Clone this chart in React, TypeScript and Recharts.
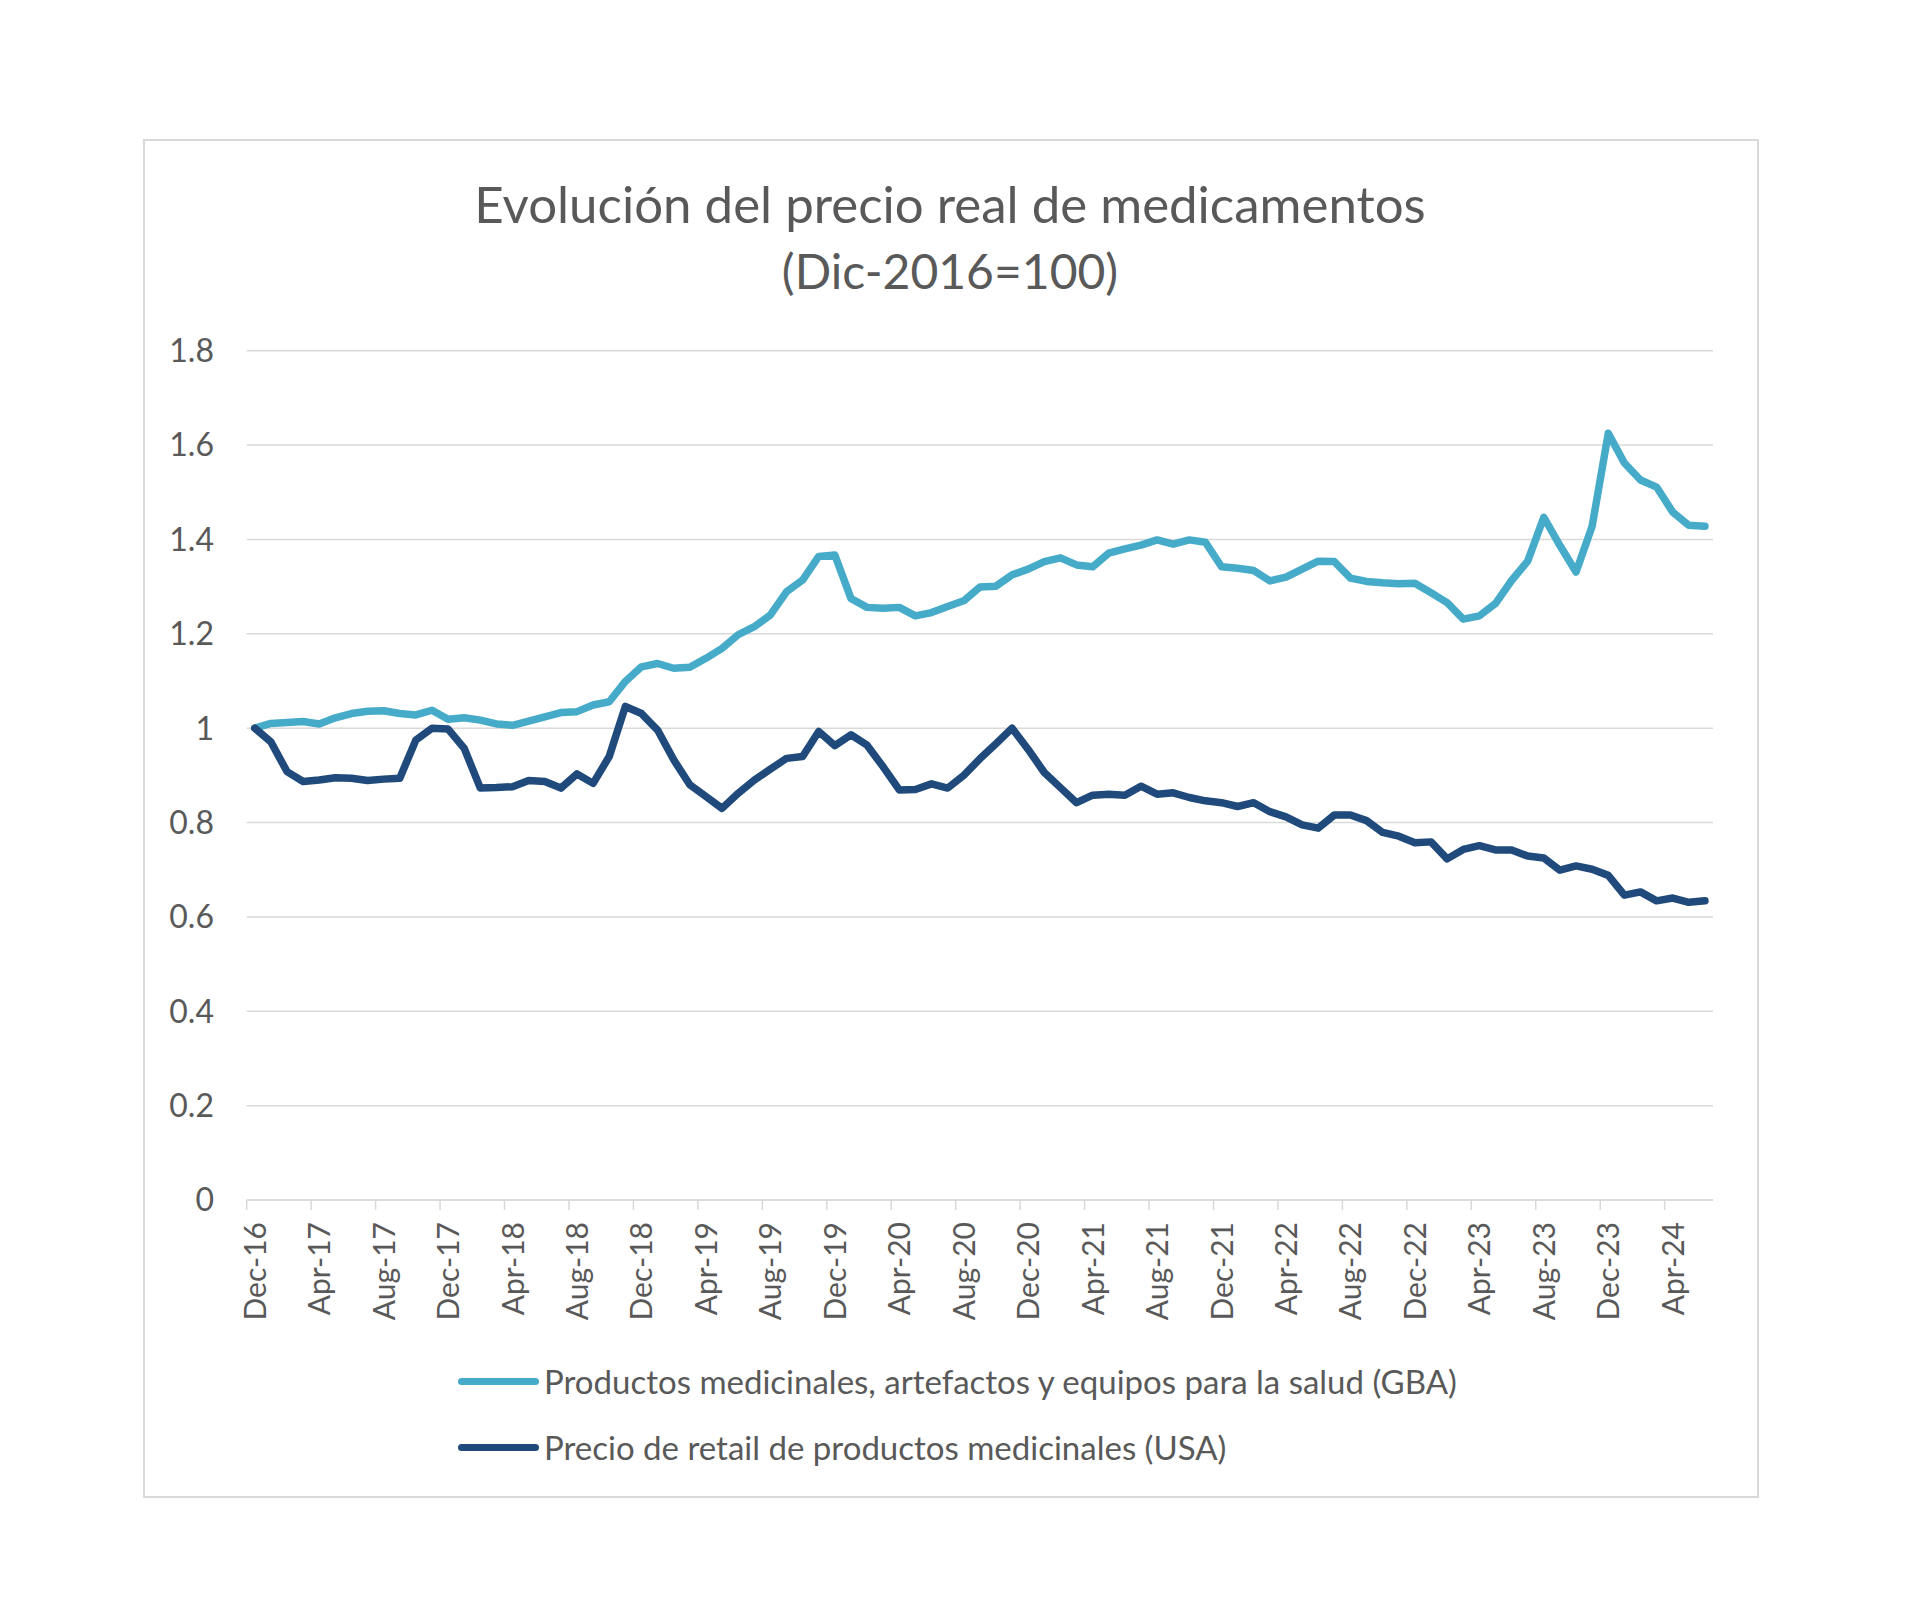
import React from 'react';
import { LineChart, Line, XAxis, YAxis, CartesianGrid } from 'recharts';

// monthly categories, Dec-16 .. Jun-24
const months = [
  'Dec-16',
  'Jan-17', 'Feb-17', 'Mar-17', 'Apr-17', 'May-17', 'Jun-17', 'Jul-17', 'Aug-17', 'Sep-17', 'Oct-17', 'Nov-17', 'Dec-17',
  'Jan-18', 'Feb-18', 'Mar-18', 'Apr-18', 'May-18', 'Jun-18', 'Jul-18', 'Aug-18', 'Sep-18', 'Oct-18', 'Nov-18', 'Dec-18',
  'Jan-19', 'Feb-19', 'Mar-19', 'Apr-19', 'May-19', 'Jun-19', 'Jul-19', 'Aug-19', 'Sep-19', 'Oct-19', 'Nov-19', 'Dec-19',
  'Jan-20', 'Feb-20', 'Mar-20', 'Apr-20', 'May-20', 'Jun-20', 'Jul-20', 'Aug-20', 'Sep-20', 'Oct-20', 'Nov-20', 'Dec-20',
  'Jan-21', 'Feb-21', 'Mar-21', 'Apr-21', 'May-21', 'Jun-21', 'Jul-21', 'Aug-21', 'Sep-21', 'Oct-21', 'Nov-21', 'Dec-21',
  'Jan-22', 'Feb-22', 'Mar-22', 'Apr-22', 'May-22', 'Jun-22', 'Jul-22', 'Aug-22', 'Sep-22', 'Oct-22', 'Nov-22', 'Dec-22',
  'Jan-23', 'Feb-23', 'Mar-23', 'Apr-23', 'May-23', 'Jun-23', 'Jul-23', 'Aug-23', 'Sep-23', 'Oct-23', 'Nov-23', 'Dec-23',
  'Jan-24', 'Feb-24', 'Mar-24', 'Apr-24', 'May-24', 'Jun-24',
];

// Productos medicinales, artefactos y equipos para la salud (GBA)
const gba = [
  1.0,
  1.010, 1.012, 1.014, 1.009, 1.022, 1.031, 1.036, 1.037, 1.031, 1.028, 1.038, 1.019,
  1.022, 1.017, 1.009, 1.006, 1.015, 1.024, 1.033, 1.035, 1.049, 1.056, 1.099, 1.130,
  1.137, 1.127, 1.129, 1.148, 1.169, 1.198, 1.215, 1.240, 1.289, 1.314, 1.364, 1.367,
  1.275, 1.256, 1.254, 1.256, 1.238, 1.245, 1.258, 1.270, 1.299, 1.301, 1.325, 1.337,
  1.353, 1.361, 1.346, 1.342, 1.371, 1.380, 1.388, 1.399, 1.390, 1.399, 1.394, 1.342,
  1.339, 1.334, 1.312, 1.320, 1.337, 1.354, 1.353, 1.318, 1.311, 1.308, 1.306, 1.307,
  1.287, 1.266, 1.231, 1.238, 1.264, 1.313, 1.354, 1.447, 1.387, 1.331, 1.428, 1.625,
  1.562, 1.526, 1.511, 1.458, 1.430, 1.428,
];

// Precio de retail de productos medicinales (USA)
const usa = [
  1.0,
  0.971, 0.908, 0.887, 0.890, 0.895, 0.894, 0.889, 0.892, 0.894, 0.975, 1.000, 0.998,
  0.957, 0.873, 0.874, 0.876, 0.889, 0.887, 0.873, 0.903, 0.883, 0.940, 1.046, 1.031,
  0.996, 0.933, 0.880, 0.855, 0.830, 0.862, 0.890, 0.913, 0.936, 0.940, 0.993, 0.963,
  0.986, 0.964, 0.918, 0.869, 0.870, 0.882, 0.873, 0.900, 0.935, 0.967, 1.000, 0.955,
  0.906, 0.874, 0.842, 0.858, 0.860, 0.858, 0.877, 0.860, 0.863, 0.853, 0.846, 0.842,
  0.834, 0.842, 0.823, 0.812, 0.795, 0.788, 0.816, 0.816, 0.804, 0.779, 0.771, 0.757,
  0.759, 0.723, 0.743, 0.751, 0.742, 0.742, 0.729, 0.725, 0.699, 0.708, 0.701, 0.688,
  0.646, 0.653, 0.634, 0.640, 0.631, 0.634,
];

const yTicks = [0, 0.2, 0.4, 0.6, 0.8, 1, 1.2, 1.4, 1.6, 1.8];

const seriesNames = [
  'Productos medicinales, artefactos y equipos para la salud (GBA)',
  'Precio de retail de productos medicinales (USA)',
];
const seriesColors = ['#46abc9', '#1f4a7b'];

const data = months.map((m, i) => ({ month: m, gba: gba[i], usa: usa[i] }));

const FONT = 'Lato, sans-serif';
const TEXT = '#595959';
const GRID = '#d9d9d9';
const HALF_BAND = 8.06;

const MonthTick = (props: any) => {
  const { x, y, payload } = props;
  return (
    <g>
      <line x1={x - HALF_BAND} x2={x - HALF_BAND} y1={y - 22} y2={y - 12} stroke={GRID} strokeWidth={1.5} />
      <text
        x={x - 1}
        y={y}
        transform={`rotate(-90, ${x - 1}, ${y})`}
        textAnchor="end"
        dominantBaseline="central"
        fontFamily={FONT}
        fontSize={30}
        fill={TEXT}
      >
        {payload.value}
      </text>
    </g>
  );
};

const LegendBox = () => (
  <div style={{ position: 'absolute', left: 458, top: 1348, width: 1200, fontFamily: FONT, fontSize: 33, color: TEXT }}>
    {seriesNames.map((name, i) => (
      <div key={name} style={{ display: 'flex', alignItems: 'center', height: 66 }}>
        <div style={{ width: 81, height: 7, borderRadius: 4, background: seriesColors[i], marginRight: 5 }} />
        <span>{name}</span>
      </div>
    ))}
  </div>
);

export default function App() {
  return (
    <div style={{ position: 'absolute', left: 0, top: 0, width: 1920, height: 1617, background: '#fff' }}>
      <div
        style={{
          position: 'absolute',
          left: 143,
          top: 139,
          width: 1612,
          height: 1355,
          border: '2px solid #d9d9d9',
        }}
      />
      <div
        style={{
          position: 'absolute',
          left: 0,
          width: 1900,
          top: 170,
          textAlign: 'center',
          fontFamily: FONT,
          lineHeight: '67px',
          color: TEXT,
        }}
      >
        <div style={{ fontSize: 51 }}>Evolución del precio real de medicamentos</div>
        <div style={{ fontSize: 48 }}>(Dic-2016=100)</div>
      </div>
      <div style={{ position: 'absolute', left: 0, top: 0 }}>
        <LineChart width={1920} height={1617} data={data} margin={{ top: 350.7, right: 207, bottom: 217, left: 146.7 }}>
          <CartesianGrid horizontal vertical={false} stroke={GRID} strokeWidth={1.5} />
          <XAxis
            dataKey="month"
            interval={3}
            padding={{ left: HALF_BAND, right: HALF_BAND }}
            axisLine={{ stroke: GRID, strokeWidth: 1.5 }}
            tickLine={false}
            tickSize={10}
            tickMargin={12}
            height={200}
            tick={<MonthTick />}
          />
          <YAxis
            domain={[0, 1.8]}
            ticks={yTicks}
            width={100}
            axisLine={false}
            tickLine={false}
            tickSize={6}
            tickMargin={26.7}
            tick={{ fontFamily: FONT, fontSize: 32, fill: TEXT }}
            tickFormatter={(v: number) => String(v)}
          />
          <Line
            dataKey="gba"
            name={seriesNames[0]}
            stroke={seriesColors[0]}
            strokeWidth={7.5}
            strokeLinejoin="round"
            strokeLinecap="round"
            dot={false}
            isAnimationActive={false}
          />
          <Line
            dataKey="usa"
            name={seriesNames[1]}
            stroke={seriesColors[1]}
            strokeWidth={7.5}
            strokeLinejoin="round"
            strokeLinecap="round"
            dot={false}
            isAnimationActive={false}
          />
        </LineChart>
      </div>
      <LegendBox />
    </div>
  );
}
